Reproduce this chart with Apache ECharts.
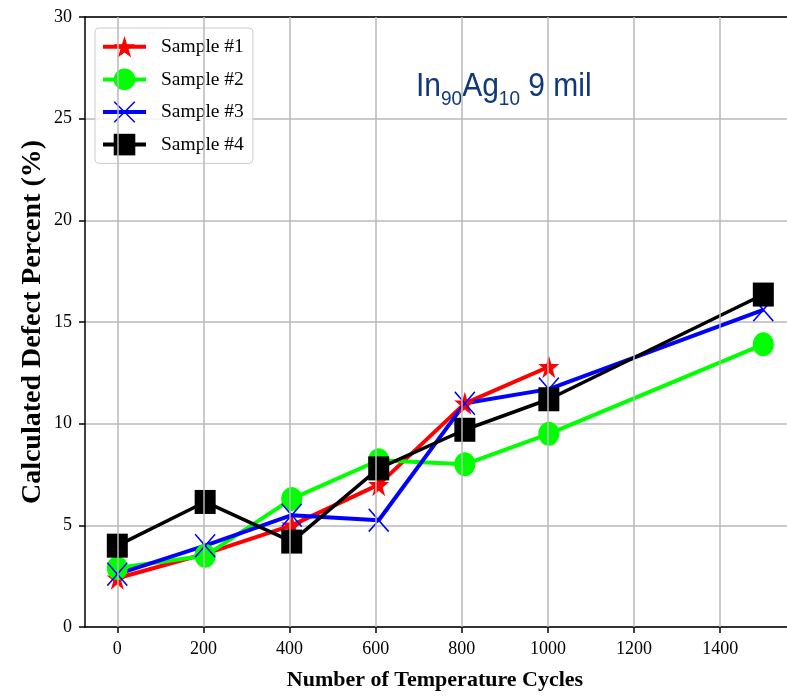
<!DOCTYPE html>
<html>
<head>
<meta charset="utf-8">
<script src="https://cdn.jsdelivr.net/npm/echarts@6/dist/echarts.min.js"></script>
<style>
html,body{margin:0;padding:0;background:#fff;}
#chart{width:787px;height:698px;}
</style>
</head>
<body>
<div id="chart"></div>
<script>
// ---- data ----
const cycles = [0, 204, 405, 607, 807, 1002, 1500];
const sample1 = [2.4, 3.6, 5.0, 7.0, 11.0, 12.8];
const sample2 = [2.9, 3.5, 6.3, 8.2, 8.0, 9.5, 13.9];
const sample3 = [2.6, 4.0, 5.5, 5.25, 11.0, 11.7, 15.6];
const sample4 = [4.0, 6.15, 4.2, 7.8, 9.7, 11.2, 16.35];
const seriesNames = ['Sample #1', 'Sample #2', 'Sample #3', 'Sample #4'];
const xTicks = [0, 200, 400, 600, 800, 1000, 1200, 1400];
const xTitle = 'Number of Temperature Cycles';
const yTitle = 'Calculated Defect Percent (%)';

const starPath = 'path://M50,0 L61.23,34.55 L97.55,34.55 L68.16,55.9 L79.39,90.45 L50,69.1 L20.61,90.45 L31.84,55.9 L2.45,34.55 L38.77,34.55 Z';
const xPath = 'path://M0,5 L5,0 L50,45 L95,0 L100,5 L55,50 L100,95 L95,100 L50,55 L5,100 L0,95 L45,50 Z';

const pairs = s => s.map((v, i) => [cycles[i], v]);
const serif = 'Liberation Serif';

const chart = echarts.init(document.getElementById('chart'), null, {renderer: 'canvas'});

function mkSeries(name, data, color, symbol, size, width) {
  return {
    name, type: 'line', data: pairs(data),
    symbol, symbolSize: size, symbolKeepAspect: false,
    lineStyle: {color, width},
    itemStyle: {color, borderWidth: 0},
    emphasis: {disabled: true},
    z: 3
  };
}

const option = {
  animation: false,
  grid: {left: 85, right: 0, top: 17, bottom: 71, containLabel: false},
  xAxis: [{
    type: 'value', min: -75, max: 1555,
    axisLine: {show: true, onZero: false, lineStyle: {color: '#000', width: 1.5}},
    axisTick: {show: true, inside: false, length: 6, lineStyle: {color: '#000', width: 1.5}, customValues: xTicks},
    axisLabel: {show: true, customValues: xTicks, margin: 13, color: '#000', fontFamily: serif, fontSize: 18,
      formatter: v => String(v)},
    splitLine: {show: false}
  }, {
    type: 'value', min: -75, max: 1555, position: 'top',
    axisLine: {show: true, onZero: false, lineStyle: {color: '#000', width: 1.5}},
    axisTick: {show: false}, axisLabel: {show: false}, splitLine: {show: false}
  }],
  yAxis: {
    type: 'value', min: 0, max: 30, interval: 5,
    axisLine: {show: true, onZero: false, lineStyle: {color: '#000', width: 1.5}},
    axisTick: {show: true, inside: false, length: 6, lineStyle: {color: '#000', width: 1.5}},
    axisLabel: {margin: 13, color: '#000', fontFamily: serif, fontSize: 18},
    splitLine: {show: true, lineStyle: {color: '#b8b8b8', width: 1.5}}
  },
  legend: {
    data: seriesNames.map(n => ({name: n})),
    orient: 'vertical', left: 95, top: 28,
    padding: [8, 9, 8, 6], itemGap: 11, itemWidth: 43, itemHeight: 27,
    lineStyle: {width: 4},
    backgroundColor: 'rgba(255,255,255,0.8)', borderColor: '#cccccc', borderWidth: 1, borderRadius: 4,
    textStyle: {fontFamily: serif, fontSize: 19.5, color: '#000', padding: [0, 0, 0, 10]},
    selectedMode: false
  },
  graphic: [
    {type: 'text', x: 33, y: 322, rotation: Math.PI / 2,
      style: {text: yTitle, font: 'bold 28px "Liberation Serif"', fill: '#000', align: 'center', verticalAlign: 'middle'}},
    {type: 'text', x: 435, y: 680,
      style: {text: xTitle, font: 'bold 22px "Liberation Serif"', fill: '#000', align: 'center', verticalAlign: 'middle'}},
    {type: 'text', x: 416, y: 66, scaleY: 1.1,
      style: {
        text: '{m|In}{s|90}{m|Ag}{s|10}{m| 9 mil}',
        fill: '#10397a',
        rich: {
          m: {fontFamily: 'Liberation Sans', fontSize: 30, fill: '#10397a', lineHeight: 34, verticalAlign: 'bottom'},
          s: {fontFamily: 'Liberation Sans', fontSize: 19, fill: '#10397a', lineHeight: 34, verticalAlign: 'bottom', padding: [0, 0, -6, 0]}
        }
      }}
  ],
  series: [
    {
      name: 'grid-x', type: 'line', data: [], z: 1, silent: true,
      markLine: {
        silent: true, symbol: ['none', 'none'], animation: false,
        label: {show: false},
        lineStyle: {color: '#b8b8b8', width: 1.5, type: 'solid'},
        emphasis: {disabled: true},
        data: xTicks.map(v => ({xAxis: v}))
      }
    },
    mkSeries(seriesNames[0], sample1, '#ff0000', starPath, [21, 23], 4),
    mkSeries(seriesNames[1], sample2, '#00ff00', 'circle', [21, 24], 4),
    mkSeries(seriesNames[2], sample3, '#0000ff', xPath, [21, 24], 4),
    mkSeries(seriesNames[3], sample4, '#000000', 'rect', [21, 24], 3.5)
  ]
};
chart.setOption(option);
</script>
</body>
</html>
